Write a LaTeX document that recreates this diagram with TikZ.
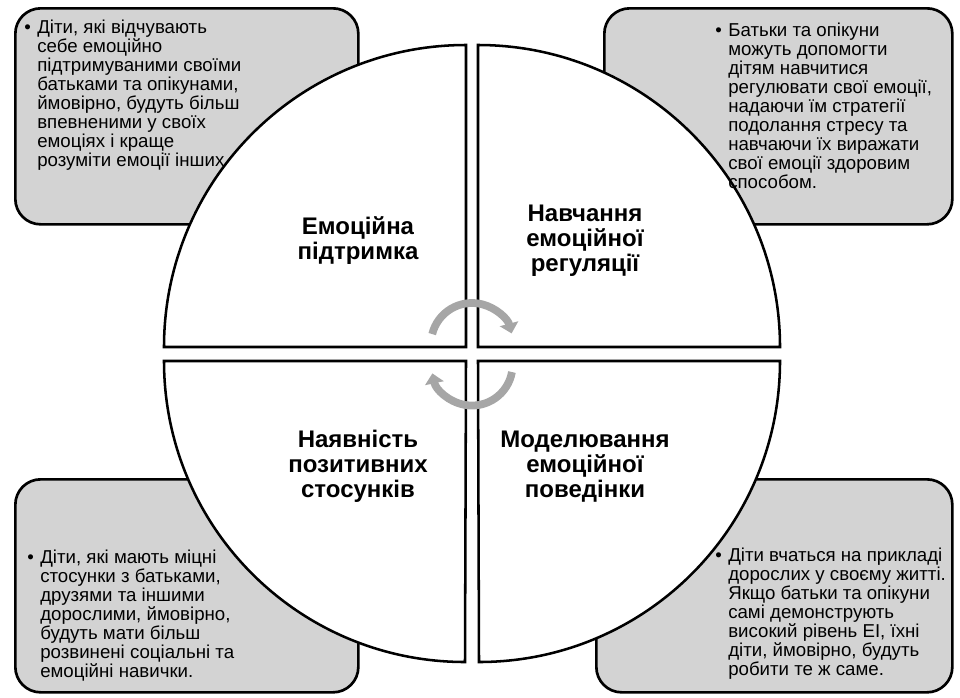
\documentclass[tikz,border=0pt]{standalone}
\usepackage{fontspec}
\setmainfont{Liberation Sans}
\usetikzlibrary{arrows.meta,positioning}
\definecolor{boxgray}{RGB}{211,211,211}
\definecolor{cyclegray}{RGB}{166,166,166}
\newcommand{\bul}{\makebox[9.75pt][l]{•}}
% bullet paragraph, baseline at the first line
\newcommand{\notelines}[1]{\vtop{\hsize=300pt\lineskiplimit=-\maxdimen
  \hangindent=9.75pt\hangafter=1\noindent\bul#1}}

\begin{document}
\begin{tikzpicture}[x=0.75pt,y=-0.75pt,
    box/.style={draw=black, line width=2pt, fill=boxgray, rounded corners=19pt, anchor=north west, inner sep=0pt},
    quad/.style={draw=black, line width=1.9pt, fill=white},
    title/.style={font=\bfseries\fontsize{18}{18.75}\selectfont, align=center, inner sep=0pt},
    note/.style={font=\fontsize{14}{14.25}\selectfont, anchor=base west, inner sep=0pt},
    cyclearrow/.style={draw=cyclegray, line width=5.8pt, -{Triangle[width=14pt,length=7.5pt]}}]
  \useasboundingbox (0,0) rectangle (960,697);
  % boxes behind the circle
  \node[box, minimum width=257.25pt, minimum height=162pt] (supportbox) at (14,7) {};
  \node[box, minimum width=261pt, minimum height=162pt] (regulbox) at (603,7) {};
  \node[box, minimum width=257.25pt, minimum height=159.75pt] (relbox) at (14,478) {};
  \node[box, minimum width=267pt, minimum height=159.75pt] (modelbox) at (595,478) {};
  % four quarters of the circle
  \draw[quad] (466,347) -- ++(-302,0) arc[start angle=180, end angle=90, radius=226.5pt] -- cycle;
  \draw[quad] (478,347) -- ++(302,0) arc[start angle=0, end angle=90, radius=226.5pt] -- cycle;
  \draw[quad] (466,361) -- ++(-302,0) arc[start angle=180, end angle=270, radius=225.75pt] -- cycle;
  \draw[quad] (478,361) -- ++(302,0) arc[start angle=0, end angle=-90, radius=225.75pt] -- cycle;
  % titles
  \node[title] (emosupport) at (358,240.5) {Емоційна\\підтримка};
  \node[title] (emoregul) at (585,240.5) {Навчання\\емоційної\\регуляції};
  \node[title] (posrel) at (358,466.7) {Наявність\\позитивних\\стосунків};
  \node[title] (emomodel) at (585,466.7) {Моделювання\\емоційної\\поведінки};
  % notes
  \node[note] (supportnote) at (24,33) {\notelines{Діти, які відчувають\\
    себе емоційно\\
    підтримуваними своїми\\
    батьками та опікунами,\\
    ймовірно, будуть більш\\
    впевненими у своїх\\
    емоціях і краще\\
    розуміти емоції інших}};
  \node[note] (regulnote) at (715,36) {\notelines{Батьки та опікуни\\
    можуть допомогти\\
    дітям навчитися\\
    регулювати свої емоції,\\
    надаючи їм стратегії\\
    подолання стресу та\\
    навчаючи їх виражати\\
    свої емоції здоровим\\
    способом.}};
  \node[note] (relnote) at (27,563) {\notelines{Діти, які мають міцні\\
    стосунки з батьками,\\
    друзями та іншими\\
    дорослими, ймовірно,\\
    будуть мати більш\\
    розвинені соціальні та\\
    емоційні навички.}};
  \node[note] (modelnote) at (715,561) {\notelines{Діти вчаться на прикладі\\
    дорослих у своєму житті.\\
    Якщо батьки та опікуни\\
    самі демонструють\\
    високий рівень ЕІ, їхні\\
    діти, ймовірно, будуть\\
    робити те ж саме.}};
  % cycle arrows in the middle
  \draw[cyclearrow] (472,344) ++(166:30.75pt) arc[start angle=166, end angle=15, radius=30.75pt];
  \draw[cyclearrow] (472,365) ++(-10:30.4pt) arc[start angle=-10, end angle=-168, radius=30.4pt];
\end{tikzpicture}
\end{document}
